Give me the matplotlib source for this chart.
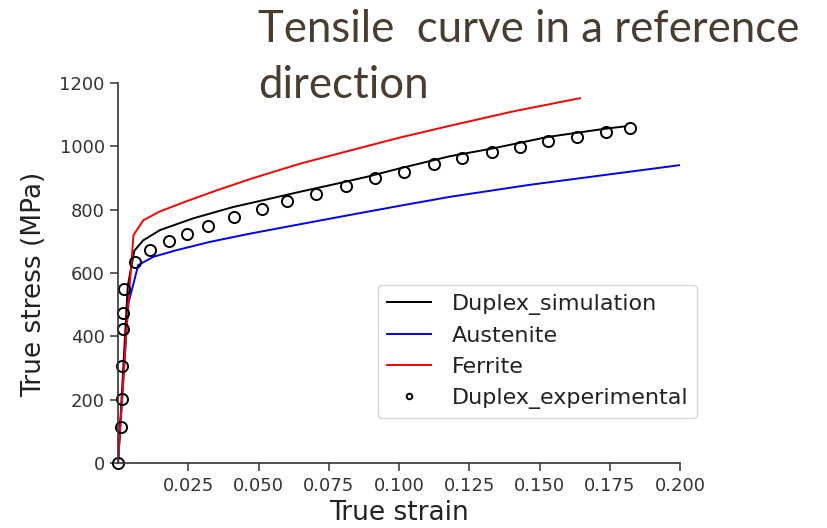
import matplotlib
matplotlib.use("Agg")
import matplotlib.pyplot as plt

# Experimental duplex steel tensile points
exp_strain = [0, 0.001, 0.0013, 0.0013, 0.0017, 0.0019, 0.0021, 0.006, 0.0115,
              0.018, 0.0247, 0.032, 0.0413, 0.0512, 0.0603, 0.0704, 0.0811,
              0.0913, 0.1018, 0.1126, 0.1223, 0.133, 0.1431, 0.1531, 0.1635,
              0.1736, 0.1822]
exp_stress = [0, 113, 202, 306, 422, 474, 551, 634, 673, 700, 722, 748, 775,
              801, 826, 850, 874, 899, 918, 942, 961, 980, 997, 1016, 1029,
              1044, 1058]

# Simulated duplex response
sim_strain = [0, 0.0035, 0.0058, 0.009, 0.0149, 0.0267, 0.041, 0.053, 0.0648,
              0.0766, 0.0885, 0.1004, 0.1181, 0.133, 0.1531, 0.1736, 0.1804]
sim_stress = [0, 560, 670, 703, 735, 772, 808, 832, 856, 879, 903, 930, 968,
              992, 1029, 1055, 1062]

# Phase responses
aus_strain = [0, 0.0031, 0.0037, 0.0072, 0.0126, 0.0209, 0.0327, 0.047,
              0.0650, 0.0826, 0.1004, 0.1181, 0.1466, 0.2]
aus_stress = [0, 430, 504, 625, 651, 672, 698, 724, 754, 783, 812, 840, 878,
              940]

fer_strain = [0, 0.0031, 0.0055, 0.009, 0.0149, 0.0244, 0.0350, 0.047,
              0.0650, 0.0826, 0.1004, 0.1181, 0.1410, 0.1644]
fer_stress = [0, 430, 719, 766, 794, 826, 860, 896, 945, 986, 1027, 1064,
              1110, 1151]

x_ticks = [0.025, 0.050, 0.075, 0.100, 0.125, 0.150, 0.175, 0.200]
y_ticks = [0, 200, 400, 600, 800, 1000, 1200]

fig = plt.figure(figsize=(8.28, 5.28), dpi=100)
ax = fig.add_axes([0.1425, 0.1225, 0.6788, 0.721])

ax.plot(sim_strain, sim_stress, color="k", lw=1.4, label="Duplex_simulation")
ax.plot(aus_strain, aus_stress, color="#0000ff", lw=1.4, label="Austenite")
ax.plot(fer_strain, fer_stress, color="#ff0000", lw=1.4, label="Ferrite")
ax.plot(exp_strain, exp_stress, "o", mfc="none", mec="k", ms=8, mew=1.4,
        clip_on=False, label="Duplex_experimental")

ax.set_xlim(0, 0.2)
ax.set_ylim(0, 1200)
ax.set_xticks(x_ticks)
ax.set_xticklabels([f"{t:.3f}" for t in x_ticks])
ax.set_yticks(y_ticks)

for side in ("top", "right"):
    ax.spines[side].set_visible(False)
for side in ("left", "bottom"):
    ax.spines[side].set_color("#333333")
    ax.spines[side].set_linewidth(1.2)
ax.tick_params(labelsize=13, length=6, width=1.1, color="#333333",
               labelcolor="#333333")

ax.set_xlabel("True strain", fontsize=19, color="#222222", labelpad=4)
ax.set_ylabel("True stress (MPa)", fontsize=19, color="#222222")
ax.yaxis.set_label_coords(-0.126, 0.471)

leg = ax.legend(loc="lower right", bbox_to_anchor=(1.03, 0.119),
                borderaxespad=0, fontsize=16, markerscale=0.5,
                frameon=True, handlelength=2.0, handletextpad=0.9)
for text in leg.get_texts():
    text.set_color("#222222")

fig.text(258 / 828, 1 - 9 / 528, "Tensile  curve in a reference\ndirection",
         fontsize=31.5, family="Lato", color="#4a3d2f", va="top", ha="left",
         linespacing=1.46)

fig.savefig("out.png", dpi=100)
